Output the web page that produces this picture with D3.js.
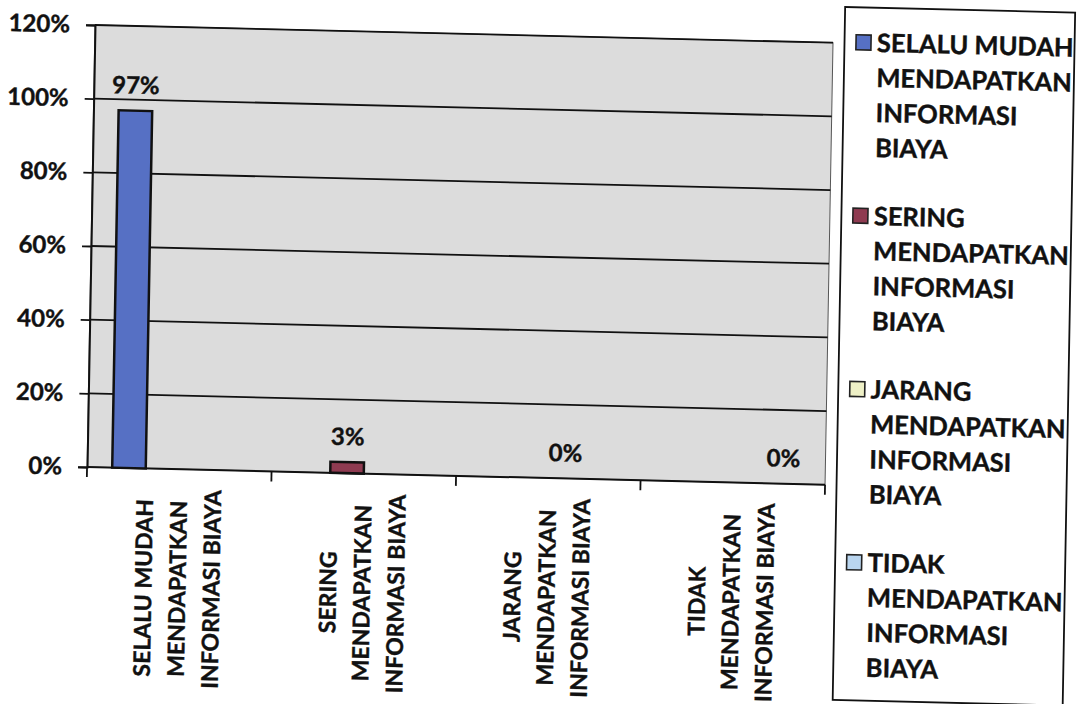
<!DOCTYPE html>
<html>
<head>
<meta charset="utf-8">
<script src="https://cdn.jsdelivr.net/npm/d3@7"></script>
<style>
  body { margin: 0; background: #fff; }
  text { font-family: Lato, "Open Sans", sans-serif; font-weight: bold; fill: #111; stroke: #111; stroke-width: 0.4px; }
</style>
</head>
<body>
<svg id="chart" width="1077" height="704"></svg>
<script>
// categories (x axis) and series (legend) — same four answers
const categories = ["SELALU MUDAH MENDAPATKAN INFORMASI BIAYA", "SERING MENDAPATKAN INFORMASI BIAYA",
                    "JARANG MENDAPATKAN INFORMASI BIAYA", "TIDAK MENDAPATKAN INFORMASI BIAYA"];
const axisLines = [["SELALU MUDAH", "MENDAPATKAN", "INFORMASI BIAYA"],
                   ["SERING", "MENDAPATKAN", "INFORMASI BIAYA"],
                   ["JARANG", "MENDAPATKAN", "INFORMASI BIAYA"],
                   ["TIDAK", "MENDAPATKAN", "INFORMASI BIAYA"]];
const legendLines = [["SELALU MUDAH", "MENDAPATKAN", "INFORMASI", "BIAYA"],
                     ["SERING", "MENDAPATKAN", "INFORMASI", "BIAYA"],
                     ["JARANG", "MENDAPATKAN", "INFORMASI", "BIAYA"],
                     ["TIDAK", "MENDAPATKAN", "INFORMASI", "BIAYA"]];
// each series only has a value in its own category
const seriesValues = [0.97, 0.03, 0, 0];
const seriesColors = ["#5670c4", "#8f3b51", "#eef0c6", "#b9d5ef"];
const yTicks = [0, 0.2, 0.4, 0.6, 0.8, 1.0, 1.2];

const svg = d3.select("#chart");

// the scanned page is slightly skewed, so draw everything straight and skew the group
const g = svg.append("g").attr("transform", "matrix(1,0.024,-0.018,1,0.45,-2.28)");

const pLeft = 95, pTop = 25, pRight = 833, pBottom = 467;

const y = d3.scaleLinear().domain([0, 1.2]).range([pBottom, pTop]);
const x = d3.scaleBand().domain(categories).range([pLeft, pRight]).padding(0);
const xs = d3.scaleBand().domain(d3.range(4)).range([0, x.bandwidth()])
    .paddingInner(0).paddingOuter(0.75);

// plot area
g.append("rect")
    .attr("x", pLeft).attr("y", pTop)
    .attr("width", pRight - pLeft).attr("height", pBottom - pTop)
    .attr("fill", "#dcdcdc").attr("stroke", "#555").attr("stroke-width", 1);

// gridlines
g.selectAll(".grid").data(yTicks.slice(1)).enter().append("line")
    .attr("x1", pLeft).attr("x2", pRight)
    .attr("y1", d => y(d)).attr("y2", d => y(d))
    .attr("stroke", "#111").attr("stroke-width", 1.8);

// y axis
const yAxis = g.append("g").attr("transform", `translate(${pLeft},0)`)
    .call(d3.axisLeft(y).tickValues(yTicks).tickFormat(d3.format(".0%"))
        .tickSize(9).tickPadding(16));
yAxis.select(".domain").attr("stroke", "#111").attr("stroke-width", 2);
yAxis.selectAll(".tick line").attr("stroke", "#111").attr("stroke-width", 1.8);
yAxis.selectAll(".tick text").attr("font-size", 24).attr("fill", "#111")
    .attr("font-family", "Lato").attr("font-weight", "bold");

// x axis line with ticks on category boundaries
g.append("line").attr("x1", pLeft).attr("x2", pRight)
    .attr("y1", pBottom).attr("y2", pBottom)
    .attr("stroke", "#111").attr("stroke-width", 2);
g.selectAll(".xtick").data(d3.range(5)).enter().append("line")
    .attr("x1", i => pLeft + i * x.step()).attr("x2", i => pLeft + i * x.step())
    .attr("y1", pBottom).attr("y2", pBottom + 10)
    .attr("stroke", "#111").attr("stroke-width", 1.8);

// bars
seriesValues.forEach((v, i) => {
    const bx = x(categories[i]) + xs(i);
    if (v > 0) {
        g.append("rect")
            .attr("x", bx).attr("y", y(v))
            .attr("width", xs.bandwidth()).attr("height", y(0) - y(v))
            .attr("fill", seriesColors[i]).attr("stroke", "#111").attr("stroke-width", 2.5);
    }
    g.append("text")
        .attr("x", bx + xs.bandwidth() / 2).attr("y", y(v) - 17)
        .attr("text-anchor", "middle").attr("font-size", 24)
        .text(d3.format(".0%")(v));
});

// category labels, rotated, lines centred, block hung under the axis
axisLines.forEach((lines, i) => {
    const cg = g.append("g")
        .attr("transform", `translate(${x(categories[i]) + x.bandwidth() / 2},${pBottom + 20})`);
    const texts = lines.map((t, j) => cg.append("text")
        .attr("font-size", 23).attr("text-anchor", "middle").attr("dy", "0.36em")
        .text(t));
    const maxLen = d3.max(texts, t => t.node().getComputedTextLength());
    texts.forEach((t, j) => {
        t.attr("transform", `translate(${(j - (lines.length - 1) / 2) * 34},${maxLen / 2}) rotate(-90)`);
    });
});

// legend
const lg = g.append("g");
lg.append("rect")
    .attr("x", 844.5).attr("y", -11).attr("width", 230).attr("height", 693)
    .attr("fill", "#fff").attr("stroke", "#111").attr("stroke-width", 1.8);
legendLines.forEach((lines, i) => {
    const ey = 24 + i * 173.3;
    lg.append("rect")
        .attr("x", 856).attr("y", ey - 7.5).attr("width", 15).attr("height", 15)
        .attr("fill", seriesColors[i]).attr("stroke", "#222").attr("stroke-width", 1.6);
    lines.forEach((t, j) => {
        lg.append("text")
            .attr("x", 877).attr("y", ey + j * 35).attr("dy", "0.36em")
            .attr("font-size", 25.5).text(t);
    });
});
</script>
</body>
</html>
